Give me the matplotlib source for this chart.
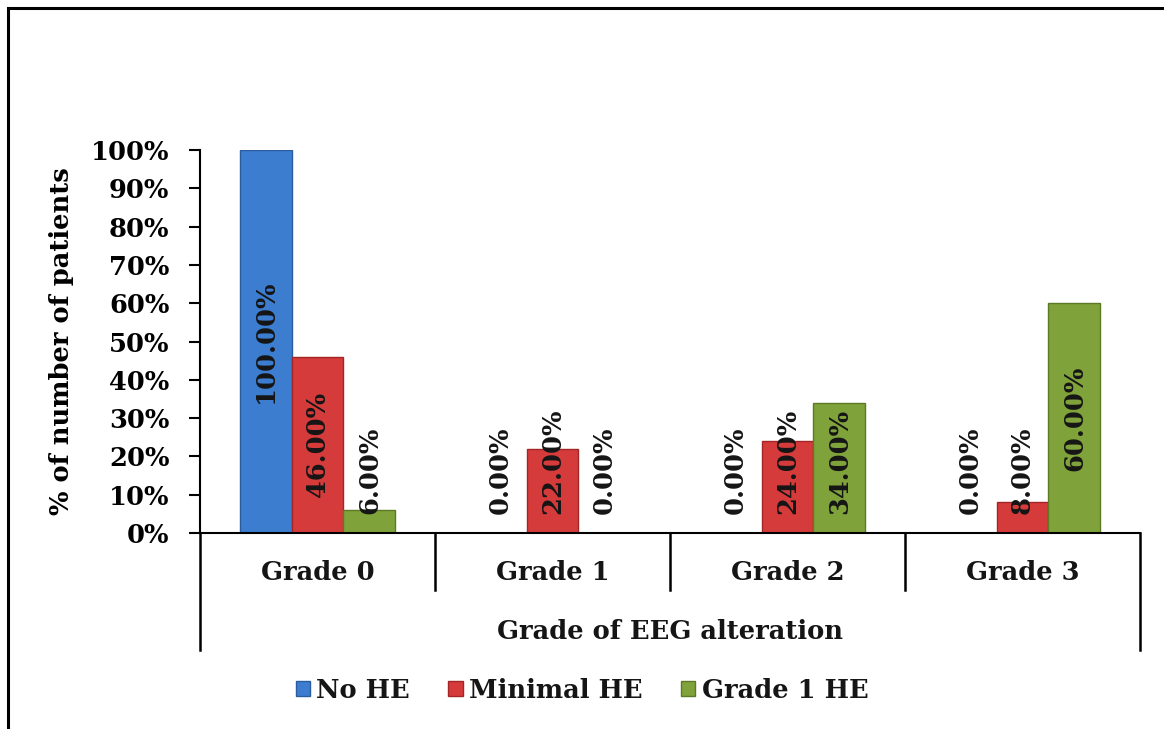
import matplotlib
matplotlib.use("Agg")
from matplotlib import pyplot as plt
from matplotlib.patches import Rectangle
import numpy as np

# donnees
categories = ["Grade 0", "Grade 1", "Grade 2", "Grade 3"]
series_names = ["No HE", "Minimal HE", "Grade 1 HE"]
no_he = [100, 0, 0, 0]
minimal_he = [46, 22, 24, 8]
grade1_he = [6, 0, 34, 60]
yticks = [0, 10, 20, 30, 40, 50, 60, 70, 80, 90, 100]

colors = ["#3C7DD0", "#D63B3B", "#7FA23A"]
edges = ["#2A5C9E", "#A32626", "#5C7A25"]

plt.rcParams["font.family"] = ["DejaVu Serif"]
plt.rcParams["font.weight"] = "bold"
plt.rcParams["text.color"] = "#151515"
FS = 18.5

fig = plt.figure(figsize=(11.64, 7.29), dpi=100)
# cadre exterieur
fig.patches.append(Rectangle((8 / 1164, -0.1), 1.2, 1 - 8 / 729 + 0.1, transform=fig.transFigure,
                             fill=False, edgecolor="black", linewidth=2.2))

ax = fig.add_axes([200 / 1164, 1 - 533 / 729, 940 / 1164, 383 / 729])
x = np.arange(len(categories))
w = 0.221
data = [no_he, minimal_he, grade1_he]
for i, vals in enumerate(data):
    xs = x + (i - 1) * w
    ax.bar(xs, vals, width=w, color=colors[i], edgecolor=edges[i], linewidth=1.0,
           label=series_names[i], zorder=2)
    for xi, v in zip(xs, vals):
        # etiquette centree, sauf si la barre est trop courte
        if v / 2 >= 19:
            ax.text(xi, v / 2, f"{v:.2f}%", rotation=90, ha="center", va="center",
                    fontsize=FS, fontweight="bold", zorder=3)
        else:
            ax.text(xi, 5, f"{v:.2f}%", rotation=90, ha="center", va="bottom",
                    fontsize=FS, fontweight="bold", zorder=3)

ax.set_xlim(-0.5, len(categories) - 0.5)
ax.set_ylim(0, 100)
ax.set_yticks(yticks)
ax.set_yticklabels([f"{t}%" for t in yticks], fontsize=FS, fontweight="bold")
ax.tick_params(axis="y", direction="out", length=8, width=1.5, pad=14)
ax.set_xticks([])
for s in ["top", "right"]:
    ax.spines[s].set_visible(False)
ax.spines["left"].set_linewidth(1.5)
ax.spines["bottom"].set_linewidth(1.5)

# separateurs de categories et boite du titre
trans = ax.get_xaxis_transform()
bounds = np.arange(len(categories) + 1) - 0.5
for k, b in enumerate(bounds):
    low = -0.305 if k in (0, len(bounds) - 1) else -0.149
    ax.plot([b, b], [0, low], transform=trans, color="black", lw=1.8, clip_on=False)
for xi, c in zip(x, categories):
    ax.text(xi, -0.104, c, transform=trans, ha="center", va="center", fontsize=FS, fontweight="bold")
ax.text(np.mean(x), -0.258, "Grade of EEG alteration", transform=trans, ha="center", va="center",
        fontsize=FS, fontweight="bold")

ax.set_ylabel("% of number of patients", fontsize=FS, fontweight="bold", labelpad=12)

fig.legend(loc="center", bbox_to_anchor=(0.5, 1 - 690 / 729), ncol=3, frameon=False,
           handlelength=0.55, handleheight=0.55, handletextpad=0.25, columnspacing=1.5,
           prop={"weight": "bold", "size": FS})

fig.savefig("out.png", dpi=100)
